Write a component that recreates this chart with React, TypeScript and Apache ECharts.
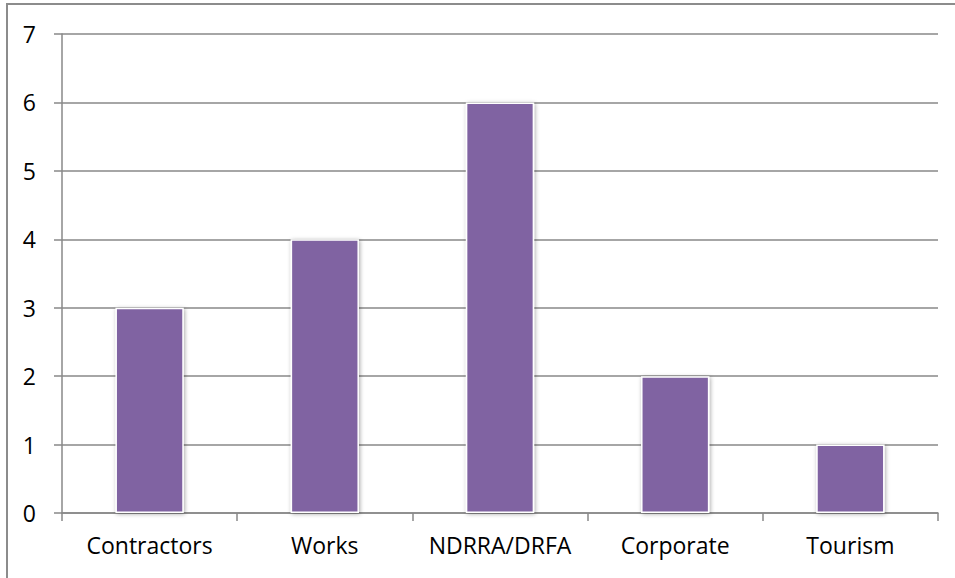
import React, { useEffect, useRef } from "react";
import * as echarts from "echarts";

const categories = ["Contractors", "Works", "NDRRA/DRFA", "Corporate", "Tourism"];
const values = [3, 4, 6, 2, 1];
const yTicks = [0, 1, 2, 3, 4, 5, 6, 7];

export default function App() {
  const ref = useRef<HTMLDivElement>(null);
  useEffect(() => {
    document.body.style.margin = "0";
    const chart = echarts.init(ref.current!, null, { renderer: "svg" });
    const gray = "#888888";
    chart.setOption({
      animation: false,
      backgroundColor: "#ffffff",
      graphic: [
        {
          type: "rect",
          shape: { x: 7, y: 4, width: 1000, height: 700 },
          style: { fill: "none", stroke: "#8c8c8c", lineWidth: 2 },
          silent: true,
        },
      ],
      grid: { left: 62, right: 17, top: 34, bottom: 65, containLabel: false },
      xAxis: {
        type: "category",
        data: categories,
        axisLine: { lineStyle: { color: gray, width: 1.5 } },
        axisTick: { show: true, length: 8, alignWithLabel: false, lineStyle: { color: gray, width: 1.5 } },
        axisLabel: {
          color: "#000",
          fontFamily: "Open Sans",
          fontSize: 23,
          margin: 20,
          interval: 0,
        },
        splitLine: { show: false },
      },
      yAxis: {
        type: "value",
        min: yTicks[0],
        max: yTicks[yTicks.length - 1],
        interval: 1,
        axisLine: { show: true, lineStyle: { color: gray, width: 1.5 } },
        axisTick: { show: true, length: 8, lineStyle: { color: gray, width: 1.5 } },
        axisLabel: {
          color: "#000",
          fontFamily: "Open Sans",
          fontSize: 23,
          margin: 26,
        },
        splitLine: { show: true, lineStyle: { color: gray, width: 1.5 } },
      },
      series: [
        {
          type: "bar",
          data: values,
          barWidth: "39%",
          itemStyle: {
            color: "#8064A2",
            borderColor: "#ffffff",
            borderWidth: 1.5,
            shadowBlur: 4,
            shadowColor: "rgba(0,0,0,0.35)",
            shadowOffsetX: 1,
            shadowOffsetY: 1,
          },
        },
      ],
    });
    return () => chart.dispose();
  }, []);
  return <div ref={ref} style={{ width: 955, height: 578 }} />;
}
